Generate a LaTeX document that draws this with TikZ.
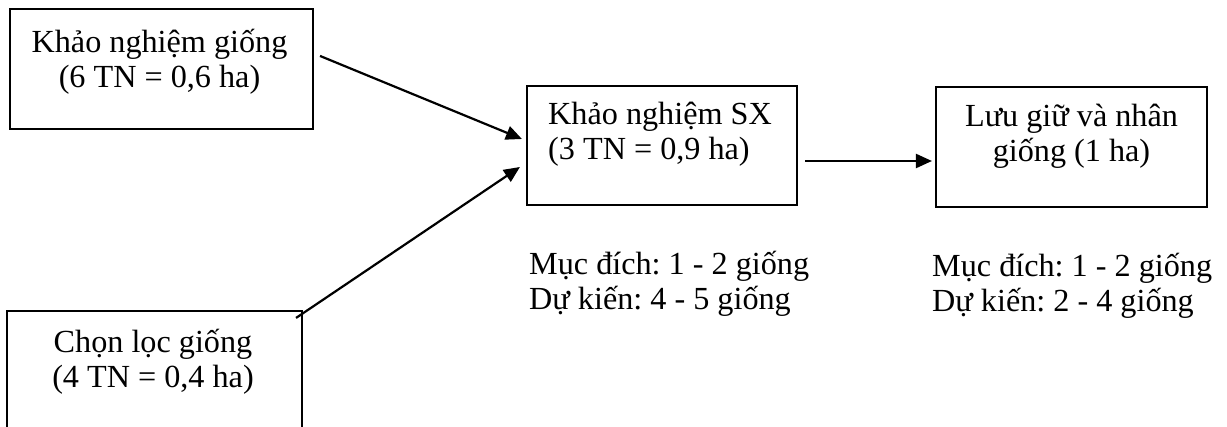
\documentclass[tikz,border=0pt]{standalone}
\usepackage{fontspec}
\setmainfont{Liberation Serif}
\usetikzlibrary{arrows.meta,calc}
\frenchspacing
\begin{document}
\begin{tikzpicture}[x=1pt,y=-1pt,
  box/.style={draw=black,line width=2.1pt,inner sep=0pt,minimum width=#1},
  txt/.style={inner sep=0pt,font=\fontsize{32.2}{36}\selectfont},
  flow/.style={line width=2.2pt,-{Triangle[length=16pt,width=14pt]}}]
\fill[white] (0,0) rectangle (1227,427);
\useasboundingbox (0,0) rectangle (1227,427);

% boxes
\node[box=303,minimum height=120] (kng) at (161.5,69) {};
\node[box=295,minimum height=130] (cl)  at (154.5,376) {};
\node[box=270,minimum height=119] (sx)  at (662,145.5) {};
\node[box=271,minimum height=120] (lg)  at (1071.5,147) {};

% box texts
\node[txt,anchor=base] (kng1) at (159.5,53) {Khảo nghiệm giống};
\node[txt,anchor=base] (kng2) at (159.5,88) {(6 TN = 0,6 ha)};
\node[txt,anchor=base] (cl1) at (153,353) {Chọn lọc giống};
\node[txt,anchor=base] (cl2) at (153,388) {(4 TN = 0,4 ha)};
\node[txt,anchor=base west] (sx1) at (548,125) {Khảo nghiệm SX};
\node[txt,anchor=base west] (sx2) at (548,160) {(3 TN = 0,9 ha)};
\node[txt,anchor=base] (lg1) at (1071.5,127) {Lưu giữ và nhân};
\node[txt,anchor=base] (lg2) at (1071.5,162) {giống (1 ha)};

% notes under the boxes
\node[txt,anchor=base west] (n1a) at (529,275) {Mục đích: 1 - 2 giống};
\node[txt,anchor=base west] (n1b) at (529,310) {Dự kiến: 4 - 5 giống};
\node[txt,anchor=base west] (n2a) at (932,277) {Mục đích: 1 - 2 giống};
\node[txt,anchor=base west] (n2b) at (932,312) {Dự kiến: 2 - 4 giống};

% connectors
\draw[flow] ($(kng.north east)+(6,48)$) -- ($(sx.west)+(-4,-6.5)$);
\draw[flow] ($(cl.north east)+(-7,8)$) -- ($(sx.west)+(-6,21.5)$);
\draw[flow] ($(sx.east)+(7,15.5)$) -- ($(lg.west)+(-3,14)$);
\end{tikzpicture}
\end{document}
